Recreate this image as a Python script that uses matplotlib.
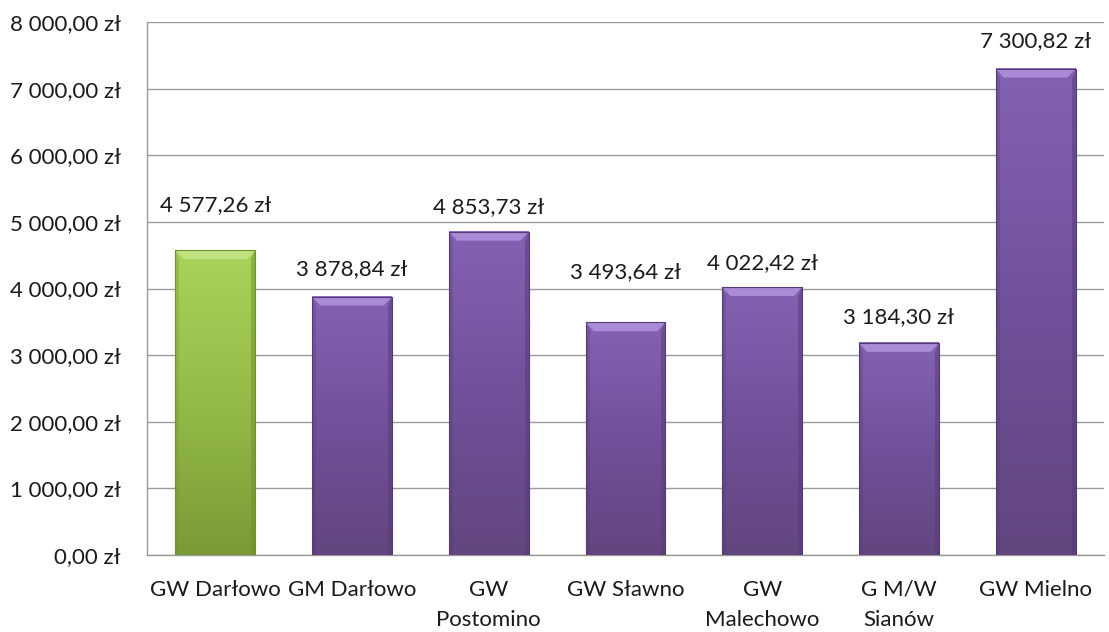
import matplotlib
matplotlib.use("Agg")
import matplotlib.pyplot as plt
import numpy as np
from matplotlib.colors import LinearSegmentedColormap
from matplotlib.patches import Polygon

categories = ["GW Darłowo", "GM Darłowo", "GW\nPostomino", "GW Sławno",
              "GW\nMalechowo", "G M/W\nSianów", "GW Mielno"]
values = [4577.26, 3878.84, 4853.73, 3493.64, 4022.42, 3184.30, 7300.82]
yticks = [0, 1000, 2000, 3000, 4000, 5000, 6000, 7000, 8000]

def fmt(v):
    s = f"{v:,.2f}"
    s = s.replace(",", " ").replace(".", ",")
    return s + " zł"

plt.rcParams['font.family'] = ['Lato', 'DejaVu Sans']
FS = 16

fig = plt.figure(figsize=(11.09, 6.32), dpi=100)
ax = fig.add_axes([147/1109, 77/632, 957/1109, 533/632])

n = len(categories)
x = np.arange(n)
width = 0.585
ax.set_xlim(-0.5, n - 0.5)
ax.set_ylim(0, 8000)

green = LinearSegmentedColormap.from_list("g", ["#7a9a38", "#94bb47", "#a9d35a"])
purple = LinearSegmentedColormap.from_list("p", ["#62467f", "#71519a", "#8462b3"])
grad = np.linspace(0, 1, 256).reshape(-1, 1)

for i, v in enumerate(values):
    cmap = green if i == 0 else purple
    l, r = x[i] - width / 2, x[i] + width / 2
    ax.bar(x[i], v, width=width, color="none", zorder=2)
    ax.imshow(grad, extent=(l, r, 0, v), origin="lower", aspect="auto",
              cmap=cmap, zorder=3)
    bev_x = 0.06
    bev_y = 8000 * 9 / 533
    top_col = "#bfe27e" if i == 0 else "#a98bd6"
    ax.add_patch(Polygon([(l, v), (r, v), (r - bev_x, v - bev_y), (l + bev_x, v - bev_y)],
                         closed=True, facecolor=top_col, edgecolor="none", zorder=4))
    side_col = "#6f8f30" if i == 0 else "#553b75"
    ax.add_patch(Polygon([(r, v), (r, 0), (r - bev_x * 0.5, 0), (r - bev_x * 0.5, v - bev_y)],
                         closed=True, facecolor=side_col, edgecolor="none", alpha=0.5, zorder=4))
    ax.add_patch(Polygon([(l, v), (l, 0), (l + bev_x * 0.5, 0), (l + bev_x * 0.5, v - bev_y)],
                         closed=True, facecolor=side_col, edgecolor="none", alpha=0.3, zorder=4))
    ax.plot([l, r, r, l, l], [0, 0, v, v, 0], color=side_col, lw=0.8, zorder=5)

label_offset_px = [45, 27, 25, 50, 24, 26, 27]
for i, v in enumerate(values):
    ax.annotate(fmt(v), (x[i], v), xytext=(0, label_offset_px[i] * 0.72),
                textcoords="offset points", ha="center", va="center",
                fontsize=FS, color="#1a1a1a", zorder=6)

ax.set_yticks(yticks)
ax.set_yticklabels([fmt(t) for t in yticks], fontsize=FS, color="#1a1a1a")
ax.set_xticks(x)
ax.set_xticklabels(categories, fontsize=FS, linespacing=1.62, color="#1a1a1a")
ax.tick_params(axis="y", length=0, pad=19)
ax.tick_params(axis="x", length=0, pad=18)
ax.yaxis.grid(True, color="#9a9a9a", lw=1)
ax.set_axisbelow(True)
for s in ["top", "right"]:
    ax.spines[s].set_visible(False)
for s in ["left", "bottom"]:
    ax.spines[s].set_color("#9a9a9a")
    ax.spines[s].set_linewidth(1)

fig.savefig("out.png", dpi=100)
